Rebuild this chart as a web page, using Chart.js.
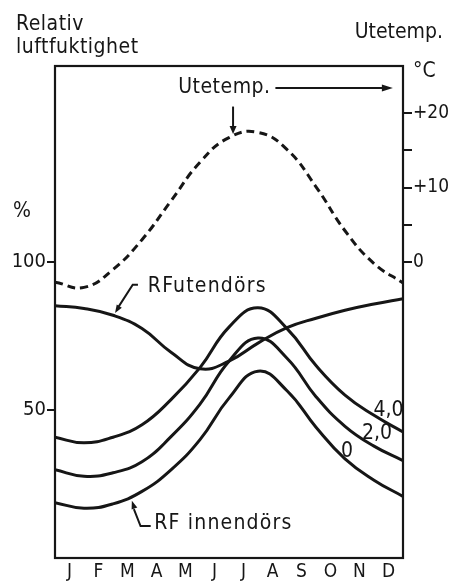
<!DOCTYPE html>
<html>
<head>
<meta charset="utf-8">
<script src="https://cdn.jsdelivr.net/npm/chart.js@4.4.1/dist/chart.umd.min.js"></script>
<style>
  html, body { margin: 0; padding: 0; background: #fff; }
  #wrap { width: 452px; height: 584px; position: relative; }
</style>
</head>
<body>
<div id="wrap"><canvas id="rfChart"></canvas></div>
<script>
// Month labels (bottom) and curve sample positions (0 = start of Jan, 12 = end of Dec)
const months = ['J', 'F', 'M', 'A', 'M', 'J', 'J', 'A', 'S', 'O', 'N', 'D'];
const monthPos = [0, 1, 2, 3, 4, 5, 6, 7, 8, 9, 10, 11, 12];

// Outdoor temperature, °C (right axis, dashed)
const outdoorTemp = [-2.7, -3.4, -1.0, 3.0, 8.2, 13.4, 16.7, 17.4, 15.1, 10.1, 4.2, -0.2, -2.8];
// RF utendörs, % (left axis)
const rfOutdoor = [85.2, 84.3, 82.0, 77.5, 69.5, 63.9, 66.5, 72.6, 77.8, 81.0, 83.7, 85.8, 87.6];
// RF innendörs, % for moisture additions 4,0 / 2,0 / 0
const rfIndoor40 = [40.8, 38.9, 40.8, 45.0, 53.5, 64.3, 78.0, 84.5, 77.5, 65.0, 55.0, 48.2, 42.6];
const rfIndoor20 = [29.8, 27.6, 28.8, 32.5, 41.0, 52.0, 66.5, 74.3, 67.5, 54.5, 44.5, 37.8, 32.9];
const rfIndoor0 = [18.7, 16.8, 18.3, 22.5, 29.8, 40.0, 54.0, 63.1, 56.5, 44.2, 33.5, 26.3, 20.8];

// Tick values
const rhTicks = [50, 100];
const tempTicks = [0, 5, 10, 15, 20];
const tempTickLabels = { 0: '0', 10: '+10', 20: '+20' };

const ink = '#161616';
const fam = '"DejaVu Sans Condensed", "DejaVu Sans", sans-serif';

function pts(vals) {
  return monthPos.map((m, i) => ({ x: m, y: vals[i] }));
}

function line(vals, axis, dashed) {
  return {
    data: pts(vals),
    yAxisID: axis,
    borderColor: ink,
    borderWidth: 3,
    borderDash: dashed ? [8, 5] : [],
    pointRadius: 0,
    tension: 0.45,
    fill: false,
  };
}

function arrowHead(ctx, x1, y1, x2, y2, len, half) {
  const ang = Math.atan2(y2 - y1, x2 - x1);
  ctx.beginPath();
  ctx.moveTo(x2, y2);
  ctx.lineTo(x2 - len * Math.cos(ang) + half * Math.sin(ang), y2 - len * Math.sin(ang) - half * Math.cos(ang));
  ctx.lineTo(x2 - len * Math.cos(ang) - half * Math.sin(ang), y2 - len * Math.sin(ang) + half * Math.cos(ang));
  ctx.closePath();
  ctx.fill();
}

// frame, titles, curve labels and leader arrows
const annotations = {
  id: 'annotations',
  afterDatasetsDraw(chart) {
    const { ctx, chartArea: a, scales } = chart;
    const px = (m) => scales.x.getPixelForValue(m);
    const py = (v) => scales.y.getPixelForValue(v);
    ctx.save();
    ctx.strokeStyle = ink;
    ctx.fillStyle = ink;
    ctx.lineWidth = 2.2;
    ctx.strokeRect(a.left, a.top, a.right - a.left, a.bottom - a.top);

    ctx.font = '21px ' + fam;
    ctx.letterSpacing = '0.5px';
    ctx.textBaseline = 'middle';
    ctx.textAlign = 'left';
    ctx.fillText('Relativ', 16, 25);
    ctx.fillText('luftfuktighet', 16, 48);
    ctx.fillText('%', 13, 212);
    ctx.textAlign = 'right';
    ctx.letterSpacing = '0px';
    ctx.fillText('Utetemp.', 443, 33);
    ctx.textAlign = 'left';
    ctx.fillText('°C', a.right + 10, 72);

    // Utetemp. label with arrow to the right axis
    ctx.letterSpacing = '0.5px';
    ctx.fillText('Utetemp.', px(4.25), py(158.8));
    ctx.lineWidth = 2;
    ctx.beginPath();
    ctx.moveTo(px(7.6), py(158.8));
    ctx.lineTo(px(11.45), py(158.8));
    ctx.stroke();
    arrowHead(ctx, px(7.6), py(158.8), px(11.65), py(158.8), 11, 3.5);
    // down arrow to the temperature peak
    ctx.beginPath();
    ctx.moveTo(px(6.14), py(152.5));
    ctx.lineTo(px(6.14), py(145.5));
    ctx.stroke();
    arrowHead(ctx, px(6.14), py(152), px(6.14), py(143.2), 8, 3.5);

    // RF utendörs
    ctx.letterSpacing = '1.2px';
    ctx.fillText('RFutendörs', px(3.2), py(91.6));
    ctx.beginPath();
    ctx.moveTo(px(2.86), py(92.3));
    ctx.lineTo(px(2.68), py(92.3));
    ctx.lineTo(px(2.2), py(85));
    ctx.stroke();
    arrowHead(ctx, px(2.68), py(92.3), px(2.07), py(82.8), 8, 3);

    // RF innendörs
    ctx.fillText('RF innendörs', px(3.42), py(11.8));
    ctx.beginPath();
    ctx.moveTo(px(3.3), py(10.8));
    ctx.lineTo(px(2.95), py(10.8));
    ctx.lineTo(px(2.72), py(16.5));
    ctx.stroke();
    arrowHead(ctx, px(2.95), py(10.8), px(2.65), py(19.3), 8, 3);

    // moisture supply labels
    ctx.letterSpacing = '0px';
    ctx.textAlign = 'center';
    ctx.fillText('4,0', px(11.5), py(49.7));
    ctx.fillText('2,0', px(11.1), py(41.9));
    ctx.fillText('0', px(10.07), py(35.8));
    ctx.restore();
  },
};

function fixWidth(w) {
  return function (scale) { scale.width = w; };
}

new Chart(document.getElementById('rfChart'), {
  type: 'line',
  data: {
    datasets: [
      line(outdoorTemp, 'y2', true),
      line(rfOutdoor, 'y', false),
      line(rfIndoor40, 'y', false),
      line(rfIndoor20, 'y', false),
      line(rfIndoor0, 'y', false),
    ],
  },
  options: {
    responsive: true,
    maintainAspectRatio: false,
    animation: false,
    layout: { padding: { top: 66, right: 0, left: 0, bottom: 0 } },
    plugins: { legend: { display: false }, tooltip: { enabled: false } },
    scales: {
      x: {
        type: 'linear',
        min: 0,
        max: 12,
        display: false,
      },
      xm: {
        type: 'category',
        labels: months,
        position: 'bottom',
        offset: true,
        grid: { display: false, drawTicks: false },
        border: { display: false },
        ticks: { color: ink, padding: 3, font: { family: fam, size: 19 }, maxRotation: 0, autoSkip: false },
        afterFit: function (s) { s.height = 26; },
      },
      y: {
        type: 'linear',
        position: 'left',
        min: 0,
        max: 166.2,
        afterBuildTicks: function (s) { s.ticks = rhTicks.map((v) => ({ value: v })); },
        grid: { drawOnChartArea: false, drawTicks: true, tickLength: 8, color: ink, lineWidth: 2 },
        border: { display: false },
        ticks: { color: ink, padding: 1, font: { family: fam, size: 20 } },
        afterFit: fixWidth(55),
      },
      y2: {
        type: 'linear',
        position: 'right',
        min: -39.7,
        max: 26.3,
        afterBuildTicks: function (s) { s.ticks = tempTicks.map((v) => ({ value: v })); },
        grid: { drawOnChartArea: false, drawTicks: true, tickLength: 9, color: ink, lineWidth: 2 },
        border: { display: false },
        ticks: {
          color: ink,
          padding: 1,
          font: { family: fam, size: 19 },
          callback: function (v) { return tempTickLabels[v] || ''; },
        },
        afterFit: fixWidth(49),
      },
    },
  },
  plugins: [annotations],
});
</script>
</body>
</html>
